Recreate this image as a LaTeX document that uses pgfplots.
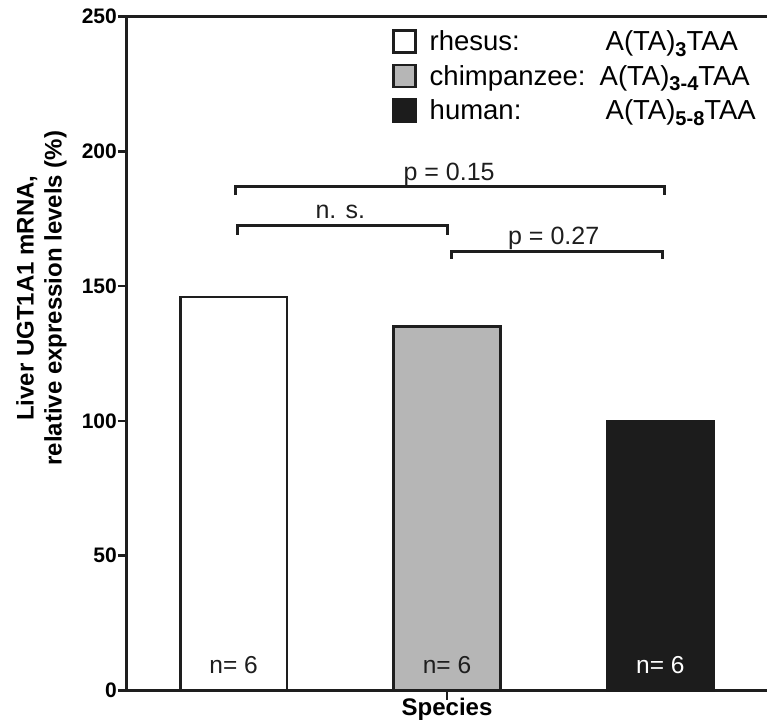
\documentclass[border=0pt]{standalone}
\usepackage{fontspec}
\setmainfont{Liberation Sans}
\usepackage{pgfplots}
\pgfplotsset{compat=1.18}
\definecolor{barline}{HTML}{1E1E1E}
\definecolor{chimp}{HTML}{B6B6B6}
\definecolor{human}{HTML}{1C1C1C}
\newcommand{\regfont}{\fontsize{24.5}{27}\selectfont}
\newcommand{\legfont}{\fontsize{27.5}{30}\selectfont}
\newcommand{\pfont}{\fontsize{25}{27}\selectfont}
\newcommand{\subs}[1]{\raisebox{-5.5pt}{\fontsize{20}{20}\selectfont\bfseries #1}}
\begin{document}
\begin{tikzpicture}
\begin{axis}[
  scale only axis, width=640pt, height=674pt,
  xmin=-0.5, xmax=2.5, ymin=0, ymax=250,
  axis x line=box, axis y line=left,
  axis line style={-, line width=3pt, color=barline},
  ytick={0,50,100,150,200,250}, yticklabels={0,50,100,150,200,250},
  xtick={1}, xticklabels={},
  xtick pos=bottom, ytick pos=left,
  tick align=outside,
  major tick length=9pt,
  tick style={line width=2.5pt, color=barline},
  yticklabel style={font=\bfseries\fontsize{21}{21}\selectfont, inner sep=1pt},
  xlabel={Species},
  xlabel style={font=\bfseries\fontsize{24}{24}\selectfont, at={(axis description cs:0.5,0)}, anchor=base, yshift=-24.5pt},
  ylabel={Liver UGT1A1 mRNA,\\relative expression levels (\%)},
  ylabel style={font=\bfseries\fontsize{24}{28}\selectfont, align=center, at={(axis description cs:-0.1338,0.582)}, anchor=center, inner sep=0pt, rotate=0},
  clip=false,
  legend style={at={(0.4094,0.985)}, anchor=north west, draw=none, fill=none, font=\legfont, row sep=9pt},
  legend cell align=left,
  legend image code/.code={\draw[#1] (0pt,-11pt) rectangle (22pt,11pt);},
]
% bars
\addplot[ybar, bar width=0.5, bar shift=0pt, draw=barline, line width=2.5pt, fill=white, forget plot] coordinates {(0,146)};
\addplot[ybar, bar width=0.5, bar shift=0pt, draw=barline, line width=2.5pt, fill=chimp, forget plot] coordinates {(1,135)};
\addplot[ybar, bar width=0.5, bar shift=0pt, draw=human, line width=2.5pt, fill=human, forget plot] coordinates {(2,100)};
% legend
\addlegendimage{draw=barline, line width=2.5pt, fill=white}
\addlegendentry{\hspace*{11pt}\makebox[176pt][l]{rhesus:}A(TA)\subs{3}TAA}
\addlegendimage{draw=barline, line width=2.5pt, fill=chimp}
\addlegendentry{\hspace*{11pt}\makebox[170pt][l]{chimpanzee:}A(TA)\subs{3-4}TAA}
\addlegendimage{draw=human, line width=2.5pt, fill=human}
\addlegendentry{\hspace*{11pt}\makebox[176pt][l]{human:}A(TA)\subs{5-8}TAA}
% significance brackets
\addplot[barline, line width=3pt, forget plot] coordinates {(0.01,183.7) (0.01,186.9) (2.02,186.9) (2.02,183.7)};
\addplot[barline, line width=3pt, forget plot] coordinates {(0.02,169) (0.02,172.5) (1.0,172.5) (1.0,169)};
\addplot[barline, line width=3pt, forget plot] coordinates {(1.02,160.2) (1.02,163) (2.01,163) (2.01,160.2)};
\node[anchor=base, font=\pfont, text=barline] at (axis cs:1.01,189.3) {p = 0.15};
\node[anchor=base, font=\pfont, text=barline] at (axis cs:0.5,175.1) {n. s.};
\node[anchor=base, font=\pfont, text=barline] at (axis cs:1.5,165.4) {p = 0.27};
% n labels
\node[anchor=base, font=\regfont, text=barline] at (axis cs:0,6.4) {n= 6};
\node[anchor=base, font=\regfont, text=barline] at (axis cs:1,6.4) {n= 6};
\node[anchor=base, font=\regfont, text=white] at (axis cs:2,6.4) {n= 6};
\end{axis}
\pgfresetboundingbox
\path[use as bounding box] (current axis.south west) ++(-127pt,-30.5pt) rectangle ++(767pt,721pt);
\end{tikzpicture}
\end{document}
